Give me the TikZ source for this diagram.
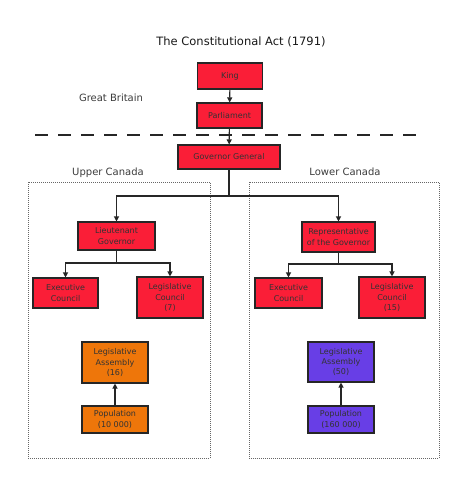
\documentclass[tikz,border=0pt]{standalone}
\usepackage{fontspec}
\setmainfont{DejaVu Sans}
\usetikzlibrary{arrows.meta}
\definecolor{boxred}{RGB}{250,30,55}
\definecolor{boxorange}{RGB}{238,118,10}
\definecolor{boxpurple}{RGB}{104,62,230}
\definecolor{labelgray}{RGB}{60,60,60}
\tikzset{
  box/.style={draw=black!85, line width=1.1pt, inner sep=1pt, align=center,
    font=\fontsize{8}{10.4}\selectfont, text=black!80},
  redbox/.style={box, fill=boxred},
  orangebox/.style={box, fill=boxorange},
  purplebox/.style={box, fill=boxpurple},
  conn/.style={draw=black!85, line width=1.1pt, -{Triangle[length=5pt,width=5pt]}},
  plain/.style={draw=black!85, line width=1.1pt},
  lbl/.style={font=\fontsize{10}{12}\selectfont, text=labelgray},
  region/.style={draw=black!60, line width=0.7pt, dash pattern=on 1pt off 1pt}
}
\begin{document}
\begin{tikzpicture}[x=1pt,y=-1pt]
\useasboundingbox (0,0) rectangle (469,480);
\fill[white] (0,0) rectangle (469,480);

\node[font=\fontsize{11.5}{13}\selectfont, text=black!90] (title) at (241,42) {The Constitutional Act (1791)};
\node[lbl] (gb) at (111,98) {Great Britain};
\node[lbl] (uc) at (108,173) {Upper Canada};
\node[lbl] (lc) at (345,172) {Lower Canada};

\draw[region] (28,182) rectangle (210,458);
\draw[region] (249,182) rectangle (439,458);

\coordinate (dl) at (35,135);
\coordinate (dr) at (425,135);
\draw[draw=black!85, line width=1.5pt, dash pattern=on 13pt off 10pt] (dl) -- (dr);

\node[redbox, minimum width=65pt, minimum height=26pt] (king) at (230,76) {King};
\node[redbox, minimum width=65pt, minimum height=25pt] (parl) at (229.5,115.5) {Parliament};
\node[redbox, minimum width=102pt, minimum height=24pt] (gg) at (229,157) {Governor General};
\node[redbox, minimum width=77pt, minimum height=28pt] (lg) at (116.5,236) {Lieutenant\\Governor};
\node[redbox, minimum width=73pt, minimum height=30pt] (rep) at (338.5,237) {Representative\\of the Governor};
\node[redbox, minimum width=65pt, minimum height=30pt] (ec1) at (65.5,293) {Executive\\Council};
\node[redbox, minimum width=66pt, minimum height=41pt] (lc1) at (170,297.5) {Legislative\\Council\\(7)};
\node[redbox, minimum width=67pt, minimum height=30pt] (ec2) at (288.5,293) {Executive\\Council};
\node[redbox, minimum width=66pt, minimum height=41pt] (lc2) at (392,297.5) {Legislative\\Council\\(15)};
\node[orangebox, minimum width=66pt, minimum height=41pt] (la1) at (115,362.5) {Legislative\\Assembly\\(16)};
\node[orangebox, minimum width=66pt, minimum height=27pt] (pop1) at (115,419.5) {Population\\(10 000)};
\node[purplebox, minimum width=66pt, minimum height=40pt] (la2) at (341,362) {Legislative\\Assembly\\(50)};
\node[purplebox, minimum width=66pt, minimum height=27pt] (pop2) at (341,419.5) {Population\\(160 000)};

\draw[conn] (king) -- (parl);
\draw[conn] (parl) -- (gg);

\coordinate (j1) at (229,196);
\draw[plain] (gg.south) -- (j1);
\draw[conn] (j1) -| (lg.north);
\draw[conn] (j1) -| (rep.north);

\coordinate (j2) at (116.5,263);
\draw[plain] (lg.south) -- (j2);
\draw[conn] (j2) -| (ec1.north);
\draw[conn] (j2) -| (lc1.north);

\coordinate (j3) at (338.5,264);
\draw[plain] (rep.south) -- (j3);
\draw[conn] (j3) -| (ec2.north);
\draw[conn] (j3) -| (lc2.north);

\draw[conn] (pop1) -- (la1);
\draw[conn] (pop2) -- (la2);
\end{tikzpicture}
\end{document}
